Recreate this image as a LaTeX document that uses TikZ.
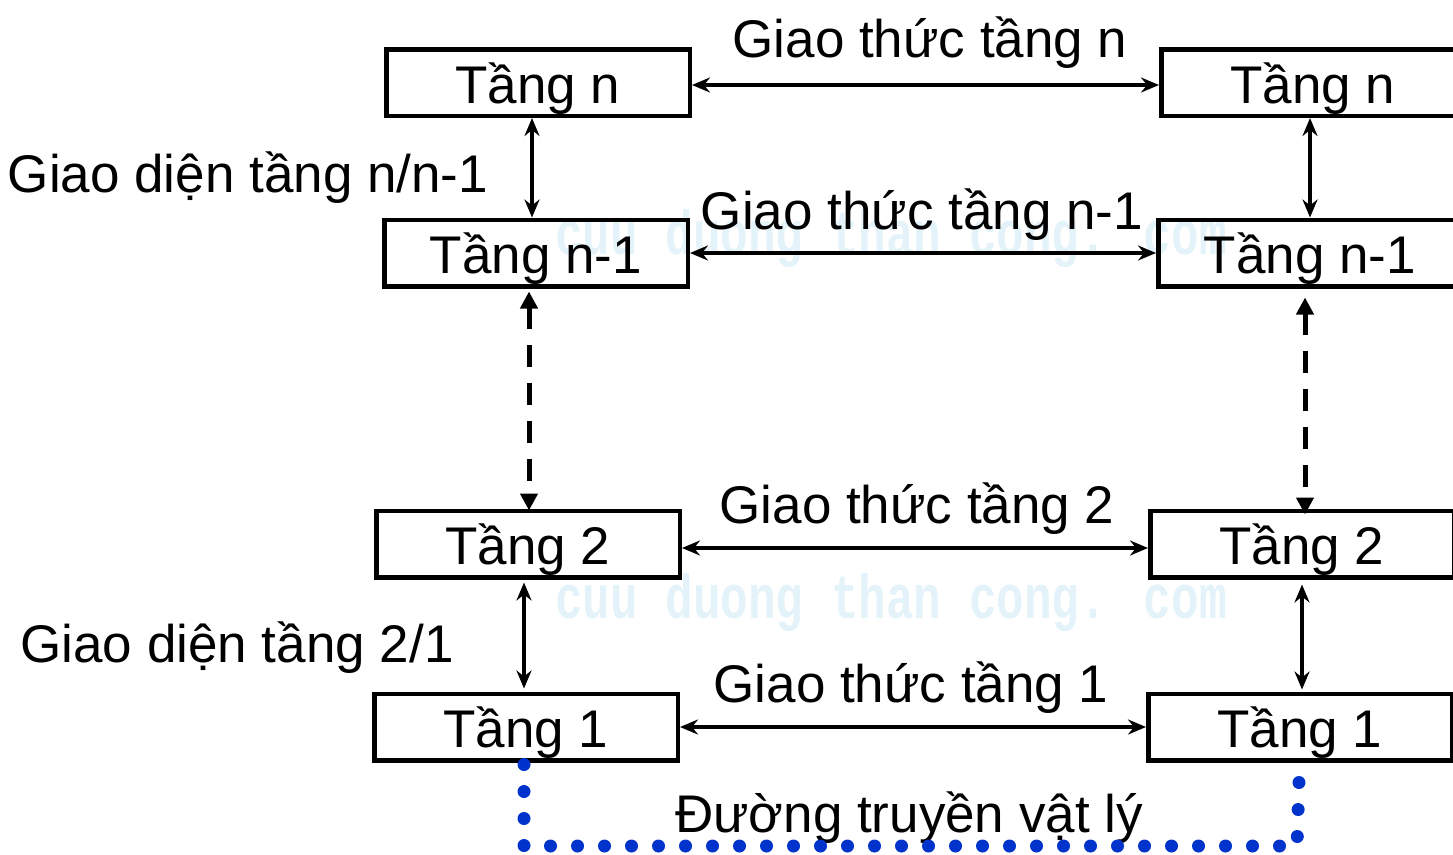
\documentclass[tikz,border=0pt]{standalone}
\usepackage{fontspec}
\setmainfont{Liberation Sans}
\newfontfamily\wmfont{Liberation Mono}
\usetikzlibrary{arrows.meta}
\definecolor{dotblue}{RGB}{0,51,204}
\definecolor{wmblue}{RGB}{228,242,250}
\begin{document}
\begin{tikzpicture}[x=1pt,y=-1pt,
  lbl/.style={font=\fontsize{53}{60}\selectfont, anchor=base, inner sep=0pt},
  layer/.style={draw, line width=4.5pt, minimum width=303.5pt, minimum height=66.5pt,
    font=\fontsize{53}{60}\selectfont, text height=41pt, text depth=0pt, inner sep=0pt},
  link/.style={line width=4pt, {Stealth[length=18pt,width=15pt,inset=6pt]}-{Stealth[length=18pt,width=15pt,inset=6pt]}},
  dlink/.style={line width=5pt, dash pattern=on 22pt off 16pt, {Triangle[length=17pt,width=17pt]}-{Triangle[length=17pt,width=17pt]}},
  phys/.style={draw=dotblue, line width=13pt, line cap=round, dash pattern=on 0pt off 27pt},
  wm/.style={text=wmblue, font=\wmfont\bfseries\fontsize{46}{50}\selectfont, anchor=base, inner sep=0pt}
]
\useasboundingbox (0,0) rectangle (1453,854);
\clip (0,0) rectangle (1453,854);

% watermark
\node[wm] (wm1) at (891,254) {\scalebox{1}[1.35]{cuu duong than cong. com}};
\node[wm] (wm2) at (891,618) {\scalebox{1}[1.35]{cuu duong than cong. com}};

% layers
\node[layer] (Ln)  at (538,82.5) {Tầng n};
\node[layer] (Rn)  at (1313,82.5) {Tầng n};
\node[layer] (Ln1) at (536,253) {Tầng n-1};
\node[layer] (Rn1) at (1310,253) {Tầng n-1};
\node[layer] (L2)  at (528,544) {Tầng 2};
\node[layer] (R2)  at (1302,544) {Tầng 2};
\node[layer] (L1)  at (526,727) {Tầng 1};
\node[layer] (R1)  at (1300,727) {Tầng 1};

% labels
\node[lbl] (pn)  at (930,57)  {Giao thức tầng n};
\node[lbl] (pn1) at (922,229) {Giao thức tầng n-1};
\node[lbl] (p2)  at (917,523) {Giao thức tầng 2};
\node[lbl] (p1)  at (911,702) {Giao thức tầng 1};
\node[lbl] (ifn) at (248,192) {Giao diện tầng n/n-1};
\node[lbl] (if2) at (237,662) {Giao diện tầng 2/1};
\node[lbl] (phy) at (909,832) {Đường truyền vật lý};

% protocol arrows
\draw[link] ([yshift=-2.5pt]Ln.east) -- ([yshift=-2.5pt]Rn.west);
\draw[link] (Ln1.east) -- (Rn1.west);
\draw[link] ([yshift=-4pt]L2.east) -- ([yshift=-4pt]R2.west);
\draw[link] (L1.east) -- (R1.west);

% interface arrows
\draw[link] ([xshift=-6pt]Ln.south) -- ([xshift=-4pt]Ln1.north);
\draw[link] ([xshift=-3pt]Rn.south) -- (Rn1.north);
\draw[link, shorten <=3pt, shorten >=3pt] ([xshift=-4pt]L2.south) -- ([xshift=-2pt]L1.north);
\draw[link, shorten <=5pt, shorten >=2pt] (R2.south) -- ([xshift=2pt]R1.north);

% dashed arrows
\draw[dlink, shorten <=3pt, shorten >=-2pt] ([xshift=-7pt]Ln1.south) -- ([xshift=1pt]L2.north);
\draw[dlink, shorten <=9pt, shorten >=-6pt] ([xshift=-5pt]Rn1.south) -- ([xshift=3pt]R2.north);

% physical medium
\coordinate (d1) at (524,846);
\coordinate (d2) at (1297,846);
\coordinate (d3) at (1299,782);
\draw[phys] ([xshift=-2pt,yshift=-2pt]L1.south) -- (d1) -- (d2) -- (d3);
\end{tikzpicture}
\end{document}
